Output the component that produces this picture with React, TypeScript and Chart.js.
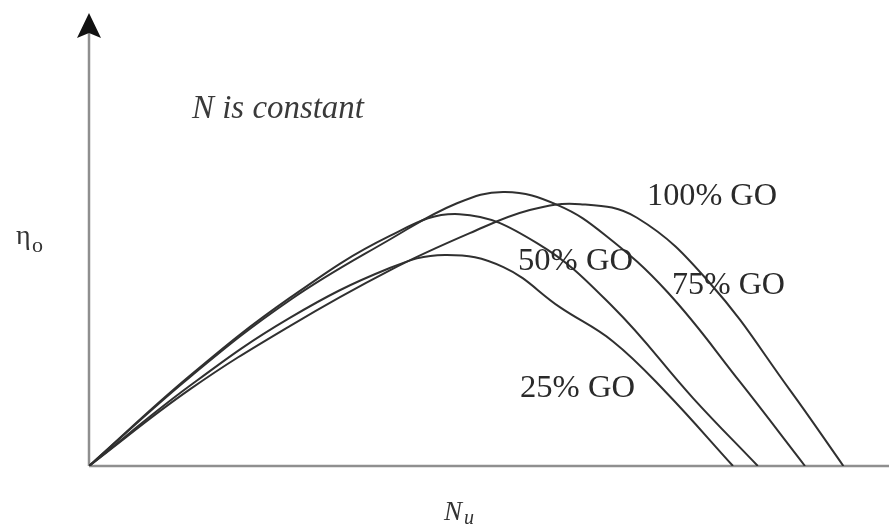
import React, { useEffect, useRef } from "react";
import { Chart, registerables } from "chart.js";

Chart.register(...registerables);

// Nu (relative units, 0..100) and efficiency (relative units, 0..100)
const go75X = [0, 12.6, 25.1, 37.6, 46.0, 52.0, 58.6, 64.5, 72.3, 81.4, 89.5];
const go75Y = [0, 19.6, 36.6, 50.0, 58.0, 60.5, 57.6, 51.0, 38.4, 18.5, 0];

const go100X = [0, 12.6, 25.1, 37.6, 47.6, 55.1, 61.4, 68.5, 77.6, 87.6, 94.3];
const go100Y = [0, 16.9, 30.9, 43.2, 51.4, 56.5, 57.8, 54.8, 40.4, 16.8, 0];

const go50X = [0, 12.6, 25.1, 37.6, 46.3, 56.0, 65.5, 75.5, 83.6];
const go50Y = [0, 19.9, 37.1, 50.8, 55.6, 49.2, 35.1, 15.0, 0];

const go25X = [0, 12.6, 25.1, 37.6, 44.5, 51.8, 58.9, 65.5, 72.0, 80.5];
const go25Y = [0, 17.7, 32.7, 43.7, 46.6, 43.9, 35.0, 27.5, 16.5, 0];

const seriesLabels = ["100% GO", "75% GO", "50% GO", "25% GO"];
const noteText = "N is constant";

const pts = (xs: number[], ys: number[]) => xs.map((x, i) => ({ x, y: ys[i] }));

function fitText(ctx: CanvasRenderingContext2D, text: string, x: number, y: number, width: number, style: string, family: string, color: string) {
  ctx.font = `${style} 30px ${family}`;
  const w = ctx.measureText(text).width;
  const size = (30 * width) / w;
  ctx.font = `${style} ${size}px ${family}`;
  ctx.fillStyle = color;
  ctx.textBaseline = "alphabetic";
  ctx.textAlign = "left";
  ctx.fillText(text, x, y);
}

const annotPlugin = {
  id: "annot",
  beforeDatasetsDraw(chart: any) {
    const { ctx } = chart;
    const xs = chart.scales.x;
    const ys = chart.scales.y;
    const ox = xs.getPixelForValue(0);
    const oy = ys.getPixelForValue(0);
    const top = ys.getPixelForValue(100);
    ctx.save();
    ctx.strokeStyle = "#8f8f8f";
    ctx.lineWidth = 2.5;
    ctx.beginPath();
    ctx.moveTo(ox, oy);
    ctx.lineTo(ox, top + 18);
    ctx.stroke();
    ctx.beginPath();
    ctx.moveTo(ox, oy);
    ctx.lineTo(chart.width, oy);
    ctx.stroke();
    ctx.fillStyle = "#111";
    ctx.beginPath();
    ctx.moveTo(ox, top);
    ctx.lineTo(ox + 12, top + 25);
    ctx.lineTo(ox, top + 20);
    ctx.lineTo(ox - 12, top + 25);
    ctx.closePath();
    ctx.fill();
    ctx.restore();
  },
  afterDraw(chart: any) {
    const { ctx } = chart;
    ctx.save();
    const serif = "'Liberation Serif', 'Times New Roman', serif";
    const col = "#2a2a2a";
    fitText(ctx, noteText, 192, 118, 172, "italic", serif, "#3a3a3a");
    fitText(ctx, seriesLabels[0], 647, 205, 130, "normal", serif, col);
    fitText(ctx, seriesLabels[1], 672, 294, 113, "normal", serif, col);
    fitText(ctx, seriesLabels[2], 518, 270, 115, "normal", serif, col);
    fitText(ctx, seriesLabels[3], 520, 397, 115, "normal", serif, col);
    ctx.fillStyle = "#333";
    ctx.font = `28px ${serif}`;
    ctx.fillText("\u03B7", 16, 244);
    ctx.font = `22px ${serif}`;
    ctx.fillText("o", 32, 252);
    ctx.font = `italic 27px ${serif}`;
    ctx.fillText("N", 444, 520);
    ctx.font = `italic 20px ${serif}`;
    ctx.fillText("u", 464, 524);
    ctx.restore();
  },
};

export default function App() {
  const ref = useRef<HTMLCanvasElement>(null);
  useEffect(() => {
    if (!ref.current) return;
    const mk = (label: string, data: any) => ({
      label,
      data,
      borderColor: "#303030",
      borderWidth: 2,
      pointRadius: 0,
      fill: false,
      tension: 0.4,
    });
    const chart = new Chart(ref.current, {
      type: "line",
      data: {
        datasets: [
          mk(seriesLabels[0], pts(go100X, go100Y)),
          mk(seriesLabels[1], pts(go75X, go75Y)),
          mk(seriesLabels[2], pts(go50X, go50Y)),
          mk(seriesLabels[3], pts(go25X, go25Y)),
        ],
      },
      options: {
        animation: false,
        responsive: false,
        parsing: false as any,
        layout: { padding: { left: 89, right: 0, top: 13, bottom: 64 } },
        plugins: { legend: { display: false }, tooltip: { enabled: false } },
        scales: {
          x: { type: "linear", min: 0, max: 100, display: false },
          y: { type: "linear", min: 0, max: 100, display: false },
        },
      },
      plugins: [annotPlugin],
    });
    return () => chart.destroy();
  }, []);
  return (
    <div style={{ position: "fixed", left: 0, top: 0, width: 889, height: 530, background: "#fff" }}>
      <canvas ref={ref} width={889} height={530} />
    </div>
  );
}
